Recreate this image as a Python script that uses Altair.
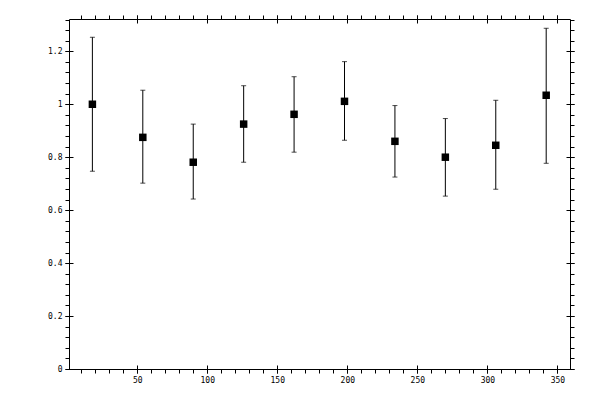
import altair as alt
import pandas as pd

# Bin centres (degrees) and measured values with error limits
x_vals = [18, 54, 90, 126, 162, 198, 234, 270, 306, 342]
y_vals = [1.000, 0.875, 0.781, 0.925, 0.962, 1.011, 0.860, 0.800, 0.845, 1.034]
y_low = [0.747, 0.702, 0.642, 0.781, 0.819, 0.864, 0.725, 0.653, 0.679, 0.777]
y_high = [1.253, 1.053, 0.925, 1.070, 1.104, 1.161, 0.995, 0.946, 1.015, 1.287]

x_major = [50, 100, 150, 200, 250, 300, 350]
x_minor = [10 * i for i in range(1, 36)]
y_major = [0, 0.2, 0.4, 0.6, 0.8, 1.0, 1.2]
y_minor = [round(0.04 * i, 2) for i in range(0, 34)]

df = pd.DataFrame({"x": x_vals, "y": y_vals, "lo": y_low, "hi": y_high})

xs = alt.Scale(domain=[1.3, 359], nice=False, zero=False)
ys = alt.Scale(domain=[0, 1.322], nice=False, zero=False)

FONT = "DejaVu Sans Mono"


def ax(orient, values, size, offset, labels, fmt=None):
    kw = dict(
        orient=orient,
        values=values,
        tickSize=size,
        offset=offset,
        domain=False,
        grid=False,
        labels=labels,
        tickColor="black",
        tickWidth=1,
        title=None,
    )
    if labels:
        kw.update(labelFont=FONT, labelFontSize=8, labelColor="black",
                  labelPadding=3)
        if fmt:
            kw["format"] = fmt
    return alt.Axis(**kw)


base = alt.Chart(df)

bars = base.mark_rule(color="black", strokeWidth=1).encode(
    x=alt.X("x:Q", scale=xs, axis=ax("bottom", x_major, 8, -4, True)),
    y=alt.Y("lo:Q", scale=ys, axis=ax("left", y_major, 8, -4, True, "~g")),
    y2="hi:Q",
)

caps_lo = base.mark_tick(color="black", orient="horizontal", size=5,
                         thickness=1).encode(
    x=alt.X("x:Q", scale=xs, axis=ax("bottom", x_minor, 4, 0, False)),
    y=alt.Y("lo:Q", scale=ys, axis=ax("left", y_minor, 4, 0, False)),
)

caps_hi = base.mark_tick(color="black", orient="horizontal", size=5,
                         thickness=1).encode(
    x=alt.X("x:Q", scale=xs, axis=ax("top", x_major, 8, -4, False)),
    y=alt.Y("hi:Q", scale=ys, axis=ax("right", y_major, 8, -4, False)),
)

points = base.mark_square(color="black", size=56, opacity=1).encode(
    x=alt.X("x:Q", scale=xs, axis=ax("top", x_minor, 4, 0, False)),
    y=alt.Y("y:Q", scale=ys, axis=ax("right", y_minor, 4, 0, False)),
)

chart = (
    alt.layer(bars, caps_lo, caps_hi, points)
    .resolve_axis(x="independent", y="independent")
    .properties(
        width=501,
        height=350,
        autosize=alt.AutoSizeParams(type="none"),
        padding={"left": 61, "top": 11, "right": 22, "bottom": 23},
        background="white",
    )
    .configure_view(stroke="black", strokeWidth=1)
)

chart.save("out.html", embed_options={"renderer": "svg", "actions": False})
